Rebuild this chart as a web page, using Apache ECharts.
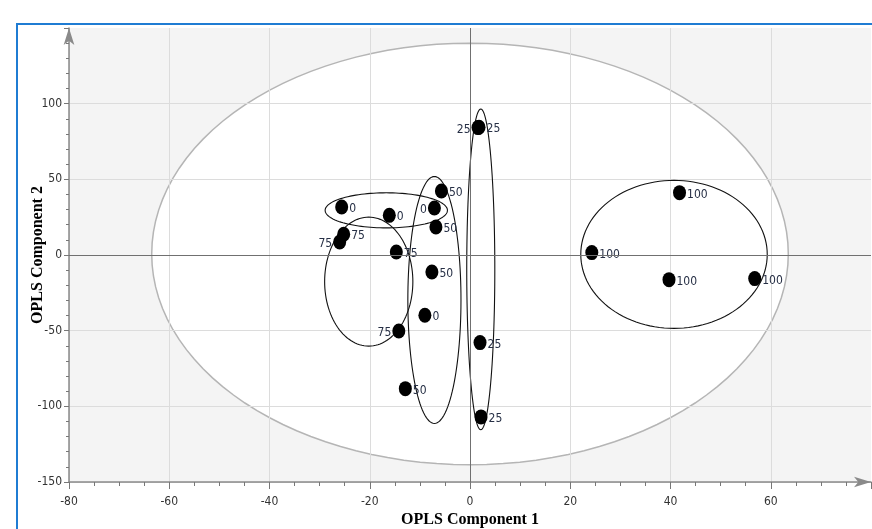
<!DOCTYPE html>
<html>
<head>
<meta charset="utf-8">
<title>OPLS score plot</title>
<script src="https://cdn.jsdelivr.net/npm/echarts@6/dist/echarts.min.js"></script>
<style>
html,body{margin:0;padding:0;background:#fff;}
#chart{width:872px;height:529px;}
</style>
</head>
<body>
<div id="chart"></div>
<script>
// scores (component 1 / component 2) and dose label of each sample
var pc1 = [-25.6, -16.1, -7.1, -9.0,   1.6,  1.8,   2.0,    2.2,  -5.7, -6.8, -7.6, -12.9, -25.2, -26.0, -14.7, -14.2, 41.8, 24.3, 39.7, 56.8];
var pc2 = [ 31.7,  26.2, 31.1, -39.8, 84.2, 84.4, -57.9, -107.0, 42.3, 18.5, -11.2, -88.3, 13.7,   8.6,   2.0, -50.2, 41.2,  1.6, -16.3, -15.6];
var dose = ['0', '0', '0', '0', '25', '25', '25', '25', '50', '50', '50', '50', '75', '75', '75', '75', '100', '100', '100', '100'];

// group ellipses: centre and half axes, data units
var grpName = ['0', '75', '50', '25', '100'];
var grpCx = [-16.7, -20.2, -7.1, 2.15, 40.7];
var grpCy = [29.5, -17.6, -29.7, -9.5, 0.4];
var grpRx = [12.2, 8.8, 5.3, 2.8, 18.6];
var grpRy = [11.6, 42.6, 81.6, 106, 48.9];

// Hotelling T2 ellipse
var t2Cx = [0], t2Cy = [0.7], t2Rx = [63.5], t2Ry = [139.3];

// labels drawn left of the dot
var leftLabel = [2, 4, 13, 15];

var tickFont = "'Liberation Sans Narrow', 'DejaVu Sans Condensed', sans-serif";
var chart = echarts.init(document.getElementById('chart'));

var ellipsePoints = function(api, cx, cy, rx, ry){
    var pts = [];
    for (var k = 0; k < 120; k++) {
        var a = k / 120 * Math.PI * 2;
        pts.push(api.coord([cx + rx * Math.cos(a), cy + ry * Math.sin(a)]));
    }
    return pts;
};

var points = [];
for (var i = 0; i < pc1.length; i++) {
    var left = leftLabel.indexOf(i) >= 0;
    points.push({
        value: [pc1[i], pc2[i]],
        label: {position: left ? 'left' : 'right', formatter: dose[i]}
    });
}

var grpData = [];
for (var g = 0; g < grpName.length; g++) {
    grpData.push([grpCx[g], grpCy[g], grpRx[g], grpRy[g]]);
}

var option = {
    animation: false,
    graphic: [{
        type: 'rect',
        z: -10,
        shape: {x: 17, y: 24, width: 900, height: 600},
        style: {fill: '#fff', stroke: '#1f7cd3', lineWidth: 2}
    }],
    grid: {left: 69, right: 1, top: 28, bottom: 47, outerBoundsMode: 'none'},
    xAxis: {
        type: 'value',
        min: -80, max: 80, interval: 20,
        name: 'OPLS Component 1',
        nameLocation: 'middle',
        nameGap: 30,
        nameMoveOverlap: false,
        nameTextStyle: {fontFamily: "'Liberation Serif', serif", fontWeight: 'bold', fontSize: 16, color: '#000'},
        axisLine: {onZero: false, symbol: ['none', 'arrow'], symbolSize: [8, 17], lineStyle: {color: '#8a8a8a', width: 1.5}},
        axisTick: {length: 7, lineStyle: {color: '#777'}},
        minorTick: {show: true, splitNumber: 4, length: 4, lineStyle: {color: '#777'}},
        axisLabel: {color: '#333', fontSize: 12, fontFamily: tickFont, margin: 14,
            formatter: function(v){ return v === 80 ? '' : v; }},
        splitLine: {show: true, showMaxLine: false, lineStyle: {color: '#dcdcdc'}}
    },
    yAxis: {
        type: 'value',
        min: -150, max: 150, interval: 50,
        name: 'OPLS Component 2',
        nameLocation: 'middle',
        nameGap: 23,
        nameMoveOverlap: false,
        nameTextStyle: {fontFamily: "'Liberation Serif', serif", fontWeight: 'bold', fontSize: 16, color: '#000'},
        axisLine: {onZero: false, symbol: ['none', 'arrow'], symbolSize: [8, 17], lineStyle: {color: '#8a8a8a', width: 1.5}},
        axisTick: {length: 5, lineStyle: {color: '#777'}},
        minorTick: {show: true, splitNumber: 5, length: 3, lineStyle: {color: '#777'}},
        axisLabel: {color: '#333', fontSize: 12, fontFamily: tickFont, margin: 7,
            formatter: function(v){ return v === 150 ? '' : v; }},
        splitLine: {show: true, showMaxLine: false, lineStyle: {color: '#dcdcdc'}}
    },
    series: [
        {
            // grey plot area + white T2 ellipse, under the grid lines
            type: 'custom',
            z: -1,
            silent: true,
            data: [[t2Cx[0], t2Cy[0], t2Rx[0], t2Ry[0]]],
            renderItem: function(params, api){
                var cs = params.coordSys;
                return {
                    type: 'group',
                    children: [{
                        type: 'rect',
                        shape: {x: cs.x, y: cs.y, width: cs.width, height: cs.height},
                        style: {fill: '#f4f4f4'}
                    }, {
                        type: 'polygon',
                        shape: {points: ellipsePoints(api, api.value(0), api.value(1), api.value(2), api.value(3))},
                        style: {fill: '#fff', stroke: '#b5b5b5', lineWidth: 1.5}
                    }]
                };
            }
        },
        {
            type: 'custom',
            z: 3,
            silent: true,
            data: grpData,
            renderItem: function(params, api){
                return {
                    type: 'polygon',
                    shape: {points: ellipsePoints(api, api.value(0), api.value(1), api.value(2), api.value(3))},
                    style: {fill: 'none', stroke: '#111', lineWidth: 1.1}
                };
            }
        },
        {
            type: 'scatter',
            z: 4,
            symbol: 'circle',
            symbolSize: [13, 15],
            itemStyle: {color: '#000', opacity: 1},
            label: {show: true, distance: 1, offset: [0, 2], color: '#262f45', fontSize: 12, fontFamily: tickFont},
            data: points,
            markLine: {
                silent: true,
                symbol: ['none', 'none'],
                label: {show: false},
                lineStyle: {type: 'solid', color: '#707070', width: 1},
                data: [{xAxis: 0}, {yAxis: 0}]
            }
        }
    ]
};

chart.setOption(option);
</script>
</body>
</html>
